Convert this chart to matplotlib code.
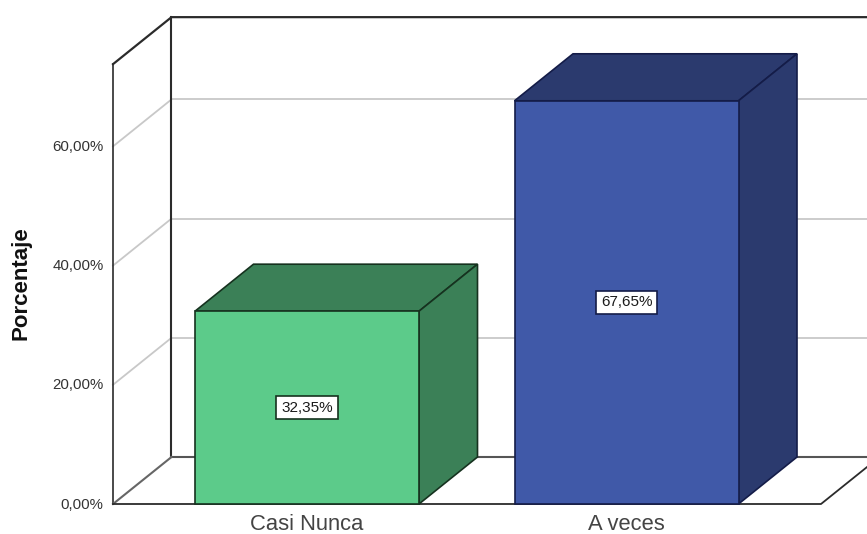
import matplotlib
matplotlib.use("Agg")
import matplotlib.pyplot as plt
from matplotlib.patches import Polygon

plt.rcParams['font.family'] = ['Liberation Sans', 'DejaVu Sans']

categories = ["Casi Nunca", "A veces"]
values = [32.35, 67.65]
value_labels = ["32,35%", "67,65%"]
ticks = [0, 20, 40, 60]
tick_labels = ["0,00%", "20,00%", "40,00%", "60,00%"]
front_colors = ["#5ccb8a", "#4059a8"]
side_colors = ["#3b8057", "#2b3a6e"]
edge_colors = ["#16321f", "#141c48"]

W, H = 867, 534
fig = plt.figure(figsize=(W / 100, H / 100), dpi=100)
ax = fig.add_axes([0, 0, 1, 1])

# scales: px per unit
PX_X = 319.5
PX_Y = 5.96
x0_px, y0_px = 307, 504
ax.set_xlim(-x0_px / PX_X, (W - x0_px) / PX_X)
ax.set_ylim((y0_px - H) / PX_Y, y0_px / PX_Y)
ax.axis("off")

DX = 58.5 / PX_X
DY = 47 / PX_Y
YTOP = 73.8
LEFT = (113 - x0_px) / PX_X
RIGHT = (821 - x0_px) / PX_X
RIGHT_BACK = RIGHT + DX
HALF = 112 / PX_X
dark = "#2b2b2b"

# gridlines on walls
for t in ticks[1:]:
    ax.plot([LEFT, LEFT + DX], [t, t + DY], color="#c8c8c8", lw=1.3, zorder=1)
    ax.plot([LEFT + DX, RIGHT_BACK], [t + DY, t + DY], color="#c8c8c8", lw=1.3, zorder=1)

# box frame
ax.plot([LEFT, LEFT], [0, YTOP], color=dark, lw=1.2, zorder=2)
ax.plot([LEFT, LEFT + DX, RIGHT_BACK], [YTOP, YTOP + DY, YTOP + DY], color=dark, lw=1.6, zorder=2)
ax.plot([LEFT + DX, LEFT + DX], [DY, YTOP + DY], color=dark, lw=1.5, zorder=2)
ax.plot([LEFT + DX, RIGHT_BACK], [DY, DY], color="#555555", lw=1.5, zorder=2)
ax.plot([LEFT, LEFT + DX], [0, DY], color="#666666", lw=1.5, zorder=2)
ax.plot([LEFT, RIGHT, RIGHT_BACK], [0, 0, DY], color=dark, lw=1.3, zorder=2)

# bars
for i, (cat, v) in enumerate(zip(categories, values)):
    l, r = i - HALF, i + HALF
    ec = edge_colors[i]
    ax.add_patch(Polygon([(l, v), (r, v), (r + DX, v + DY), (l + DX, v + DY)],
                         fc=side_colors[i], ec=ec, lw=1.2, zorder=3))
    ax.add_patch(Polygon([(r, 0), (r + DX, DY), (r + DX, v + DY), (r, v)],
                         fc=side_colors[i], ec=ec, lw=1.2, zorder=3))
    ax.add_patch(Polygon([(l, 0), (r, 0), (r, v), (l, v)],
                         fc=front_colors[i], ec=ec, lw=1.2, zorder=4))
    ax.text(i, v / 2, value_labels[i], ha="center", va="center", fontsize=11,
            color="#1a1a1a", zorder=5,
            bbox=dict(boxstyle="square,pad=0.32", fc="white", ec=ec, lw=1.2))
    ax.text(i, -3.45, cat, ha="center", va="center", fontsize=15.8, color="#444444", zorder=5)

# y tick labels
for t, lab in zip(ticks, tick_labels):
    ax.text(LEFT - 9.5 / PX_X, t - 0.1, lab, ha="right", va="center", fontsize=10.8, color="#333333")

ax.text((21 - x0_px) / PX_X, (y0_px - 283.5) / PX_Y, "Porcentaje", rotation=90,
        ha="center", va="center", fontsize=16, fontweight="bold", color="#111111")

fig.savefig("out.png", dpi=100, facecolor="white")
